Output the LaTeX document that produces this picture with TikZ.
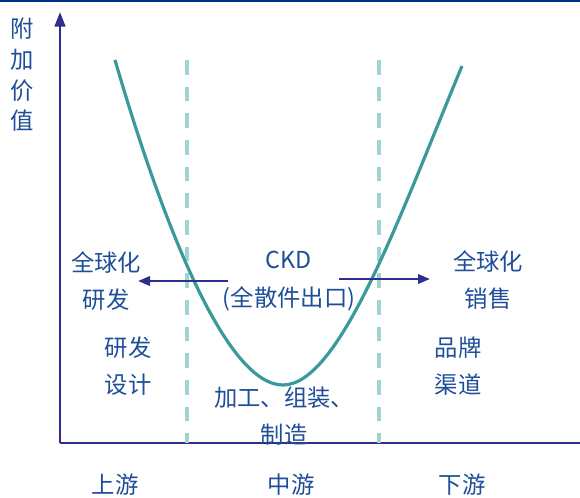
\documentclass[tikz,border=0pt]{standalone}
\usepackage{fontspec}
\setmainfont{Noto Sans CJK SC}
\usetikzlibrary{arrows.meta}
\definecolor{txt}{RGB}{31,78,153}
\definecolor{axisc}{RGB}{46,46,142}
\definecolor{curvec}{RGB}{58,154,154}
\definecolor{dashc}{RGB}{160,212,212}
\definecolor{topc}{RGB}{0,47,135}
\begin{document}
\begin{tikzpicture}[x=0.75pt,y=-0.75pt,
  lab/.style={text=txt,font=\fontsize{17.5}{28}\selectfont,align=center,inner sep=0pt},
  axisline/.style={draw=axisc,line width=2pt},
  arr/.style={draw=axisc,line width=1.8pt,-{Triangle[length=9pt,width=7pt]}},
  guide/.style={draw=dashc,line width=2.6pt,dash pattern=on 11pt off 9pt}]
\useasboundingbox (0,0) rectangle (580,497);
\fill[topc] (0,0) rectangle (580,2);
% axes
\coordinate (o) at (60,443);
\coordinate (ytop) at (60,12);
\coordinate (xend) at (580,443);
\draw[axisline,-{Triangle[length=11pt,width=8pt]}] (o) -- (ytop);
\draw[axisline] (o) -- (xend);
% guides
\coordinate (g1a) at (187,60); \coordinate (g1b) at (187,443);
\coordinate (g2a) at (379,60); \coordinate (g2b) at (379,443);
\draw[guide] (g1a) -- (g1b);
\draw[guide] (g2a) -- (g2b);
% curve
\coordinate (c0) at (115,60);
\coordinate (cm) at (283,385);
\coordinate (c1) at (462,66);
\draw[curvec,line width=2.4pt] (c0) .. controls (166,235) and (228,385) .. (cm)
  .. controls (340,385) and (400,215) .. (c1);
% labels
\node[lab,font=\fontsize{17.5}{23}\selectfont] (yl) at (22,75) {附\\加\\价\\值};
\node[lab] (l1) at (106,281) {全球化\\研发};
\node[lab] (m1) at (289,281) {CKD\\(全散件出口)};
\node[lab] (r1) at (488,280) {全球化\\销售};
\node[lab] (l2) at (128,366) {研发\\设计};
\node[lab] (r2) at (458,366) {品牌\\渠道};
\node[lab] (m2) at (284,416) {加工、组装、\\制造};
\node[lab] (u) at (115,485) {上游};
\node[lab] (mm) at (291,485) {中游};
\node[lab] (d) at (462,485) {下游};
% arrows
\coordinate (a1s) at (228,281); \coordinate (a1e) at (138,281);
\coordinate (a2s) at (339,279); \coordinate (a2e) at (430,279);
\draw[arr] (a1s) -- (a1e);
\draw[arr] (a2s) -- (a2e);
\end{tikzpicture}
\end{document}
